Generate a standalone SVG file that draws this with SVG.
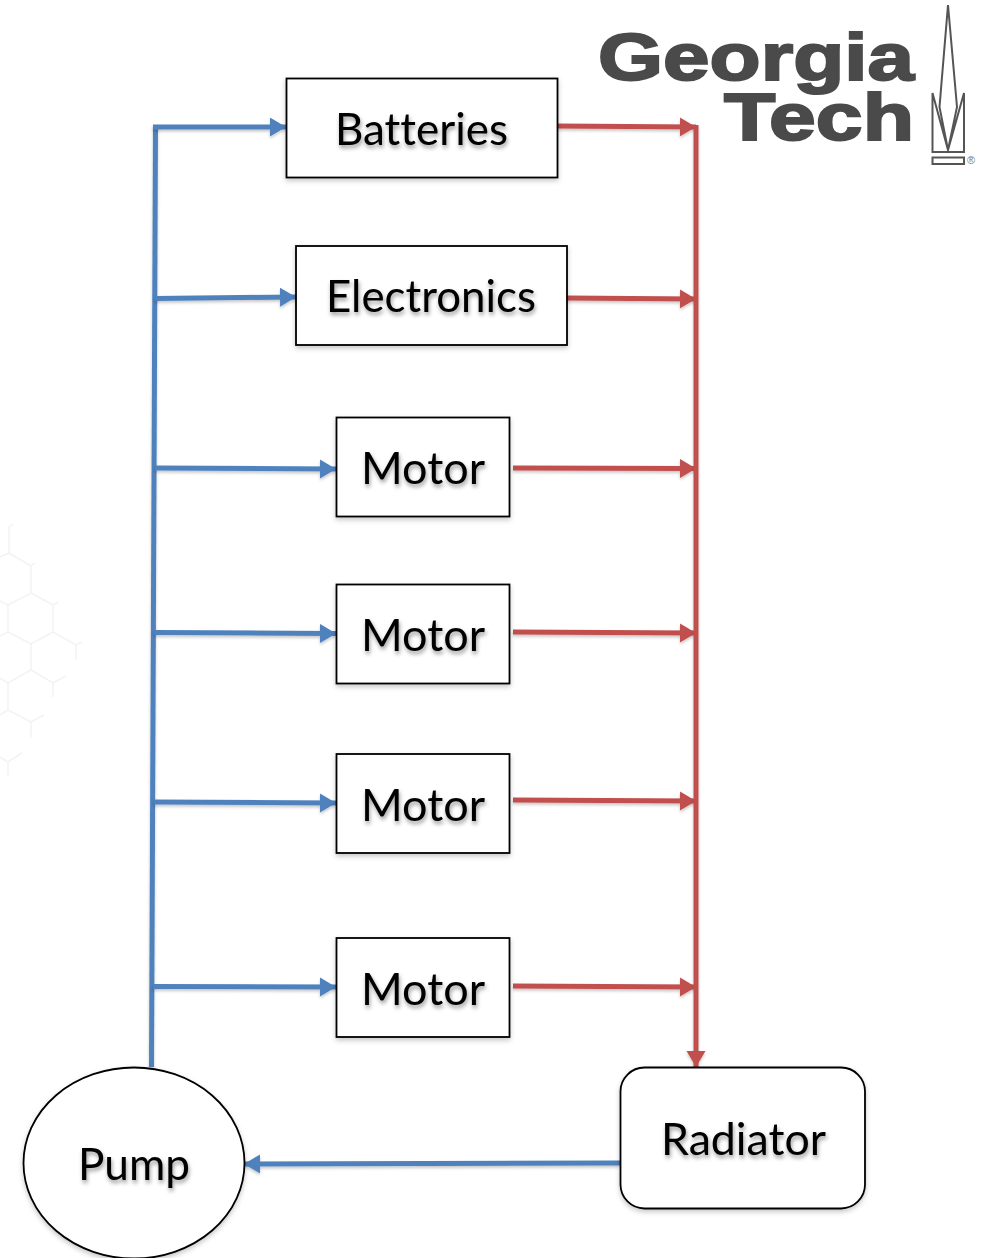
<svg xmlns="http://www.w3.org/2000/svg" width="999" height="1258" viewBox="0 0 999 1258">
<style>
.box{fill:#fff;stroke:#000;stroke-width:1.8;filter:url(#bs)}
.lbl{font-family:Lato,"Open Sans",sans-serif;font-size:44px;fill:#000;font-variant-ligatures:none;filter:url(#ts)}
.b{fill:none;stroke:#4f81bd;stroke-width:5;filter:url(#ls)}
.r{fill:none;stroke:#c0504d;stroke-width:5;filter:url(#ls)}
.ab{marker-end:url(#ab)}
.ar{marker-end:url(#ar)}
.logo{font-family:"Liberation Sans",Arial,sans-serif;font-weight:700;fill:#4a4a4a;stroke:#4a4a4a;stroke-width:2}
.hex{fill:none;stroke:#f3f3f3;stroke-width:1.5}
.spire{fill:none;stroke:#555;stroke-width:2}
</style>
<defs>
<filter id="ts" x="-10%" y="-20%" width="125%" height="160%"><feDropShadow dx="1" dy="3" stdDeviation="2.2" flood-color="#000" flood-opacity=".4"/></filter>
<filter id="bs" x="-5%" y="-5%" width="110%" height="115%"><feDropShadow dx="0" dy="2.500" stdDeviation="2.500" flood-color="#000" flood-opacity=".22"/></filter>
<filter id="ls" filterUnits="userSpaceOnUse" x="0" y="0" width="999" height="1258"><feDropShadow dx="0" dy="2" stdDeviation="1.500" flood-color="#000" flood-opacity=".22"/></filter>
<marker id="ab" markerUnits="userSpaceOnUse" markerWidth="17" markerHeight="20" refX="16" refY="9.500" orient="auto"><path d="M0 0L16 9.500L0 19Z" fill="#4f81bd"/></marker>
<marker id="ar" markerUnits="userSpaceOnUse" markerWidth="17" markerHeight="20" refX="16" refY="9.500" orient="auto"><path d="M0 0L16 9.500L0 19Z" fill="#c0504d"/></marker>
</defs>
<g id="hexagon-background">
<path class="hex" d="M31 593L53 605L53 632L31 644L8 632L8 605Z"/>
<path class="hex" d="M31 593L31 566L9 553L9 527L13 524M31 566L35 563M9 553L0 557M53 605L58 602M53 632L76 645L82 642M76 645L76 660M31 644L31 670L8 683L8 710L0 715M8 683L0 678M31 670L53 683L66 676M53 683L53 697M8 710L31 722L44 715M31 722L31 738M8 632L0 636M8 605L0 601M0 757L8 762L22 753M8 762L8 777"/>
</g>
<g id="connectors">
<path class="b" d="M155.500 125L151.500 1067"/>
<path class="b ab" d="M153 127L286 127"/>
<path class="b ab" d="M155 298.500L296 297"/>
<path class="b ab" d="M155 468L336 469"/>
<path class="b ab" d="M154 632.500L336 633.500"/>
<path class="b ab" d="M154 802L336 803"/>
<path class="b ab" d="M153 986.500L336 987"/>
<path class="r ar" d="M557 126L696 127"/>
<path class="r ar" d="M566 298L696 299"/>
<path class="r ar" d="M513 468L696 468.500"/>
<path class="r ar" d="M513 632L696 633"/>
<path class="r ar" d="M513 800L696 801"/>
<path class="r ar" d="M513 986L696 987"/>
<path class="r ar" d="M696 125L696 1067"/>
<path class="b ab" d="M620 1163L244 1164"/>
</g>
<g id="batteries"><rect class="box" x="286.500" y="78.500" width="271" height="99"/><text class="lbl" x="335" y="145" textLength="173" lengthAdjust="spacingAndGlyphs">Batteries</text></g>
<g id="electronics"><rect class="box" x="296" y="246" width="271" height="99"/><text class="lbl" x="326" y="312" textLength="210" lengthAdjust="spacingAndGlyphs">Electronics</text></g>
<g id="motor-1"><rect class="box" x="336.500" y="417.500" width="173" height="99"/><text class="lbl" x="361" y="484" textLength="124" lengthAdjust="spacingAndGlyphs">Motor</text></g>
<g id="motor-2"><rect class="box" x="336.500" y="584.500" width="173" height="99"/><text class="lbl" x="361" y="651" textLength="124" lengthAdjust="spacingAndGlyphs">Motor</text></g>
<g id="motor-3"><rect class="box" x="336.500" y="754" width="173" height="99"/><text class="lbl" x="361" y="821" textLength="124" lengthAdjust="spacingAndGlyphs">Motor</text></g>
<g id="motor-4"><rect class="box" x="336.500" y="938" width="173" height="99"/><text class="lbl" x="361" y="1005" textLength="124" lengthAdjust="spacingAndGlyphs">Motor</text></g>
<g id="radiator"><rect class="box" x="620.500" y="1067.500" width="244.500" height="141" rx="24"/><text class="lbl" x="661" y="1155" textLength="165" lengthAdjust="spacingAndGlyphs">Radiator</text></g>
<g id="pump"><ellipse class="box" cx="134" cy="1163" rx="110.500" ry="95.500"/><text class="lbl" x="78" y="1180" textLength="112" lengthAdjust="spacingAndGlyphs">Pump</text></g>
<g id="logo">
<text class="logo" x="598" y="80" font-size="66" textLength="316" lengthAdjust="spacingAndGlyphs">Georgia</text>
<text class="logo" x="724" y="140" font-size="66" textLength="190" lengthAdjust="spacingAndGlyphs">Tech</text>
<path class="spire" d="M948 5L939.500 107L948 150L957 107ZM932.500 93L932.500 152L964 152L964 93L948 150ZM932.500 157.500H964V164H932.500Z"/>
<text x="967" y="164" font-family="Liberation Sans,sans-serif" font-size="11" fill="#777">®</text>
</g>
</svg>
